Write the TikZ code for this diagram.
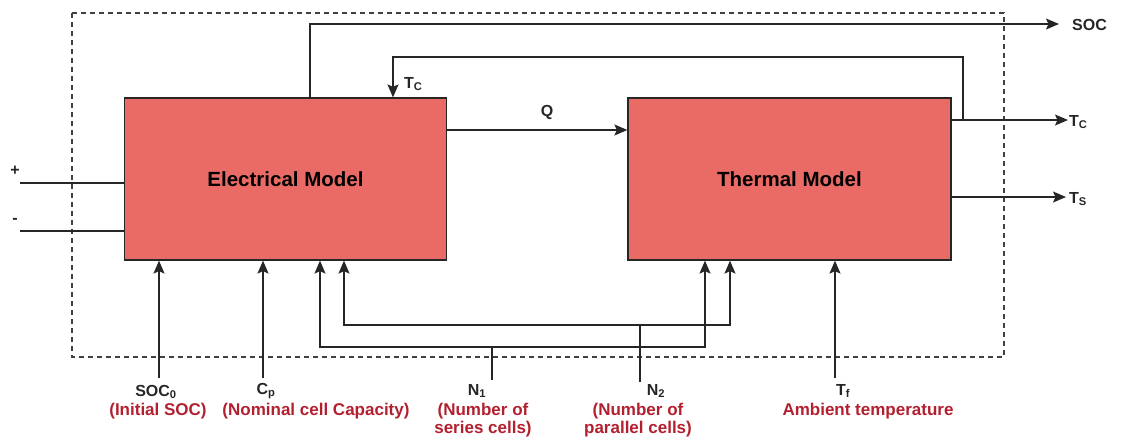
\documentclass[tikz,border=0pt]{standalone}
\usepackage{fontspec}
\setmainfont{Liberation Sans}
\usetikzlibrary{arrows.meta}
\definecolor{boxfill}{HTML}{EA6B66}
\definecolor{lblred}{RGB}{178,32,48}
\tikzset{
  box/.style={draw=black!85, line width=1.2pt, fill=boxfill, minimum width=322pt, minimum height=162pt, inner sep=0pt, font=\fontsize{20.5}{22}\selectfont\bfseries},
  wire/.style={line width=1.5pt, draw=black!85},
  arr/.style={wire, -{Stealth[length=13pt,width=11pt,inset=2.5pt]}},
  lbl/.style={inner sep=0pt, font=\fontsize{16}{18}\selectfont\bfseries, text=black!85},
  rlbl/.style={inner sep=0pt, font=\fontsize{17}{18.5}\selectfont\bfseries, text=lblred, align=center},
  dashbox/.style={draw=black!75, line width=1.2pt, dash pattern=on 5pt off 4pt}
}
\newcommand{\sub}[1]{\textsubscript{#1}}
\begin{document}
\begin{tikzpicture}[x=1pt,y=-1pt]
\useasboundingbox (0,0) rectangle (1125,445);
% dashed frame
\draw[dashbox] (72,13) rectangle (1004,357);
% boxes
\node[box] (em) at (285.5,179) {Electrical Model};
\node[box, minimum width=323pt] (tm) at (789.5,179) {Thermal Model};

% + / - terminals
\node[lbl] (plus) at (15,171) {+};
\node[lbl] (minus) at (15,221) {-};
\coordinate (pin) at (20,183);
\coordinate (min) at (20,231);
\draw[wire] (pin) -- (pin -| em.west);
\draw[wire] (min) -- (min -| em.west);

% Q arrow
\coordinate (qs) at (446,130);
\draw[arr] (qs) -- (qs -| tm.west);
\node[lbl] (q) at (547,112) {Q};

% SOC output
\coordinate (socx) at (310,24);
\coordinate (socend) at (1059,24);
\draw[arr] (socx |- em.north) -- (socx) -- (socend);
\node[lbl, anchor=west] (soc) at (1072,25) {SOC};

% Tc output + feedback
\coordinate (tcy) at (951,120);
\coordinate (tcend) at (1068,120);
\coordinate (fbx) at (963,57);
\coordinate (fbl) at (393,57);
\draw[arr] (tcy) -- (tcend);
\draw[arr] (fbx |- tcy) -- (fbx) -- (fbl) -- (fbl |- em.north);
\node[lbl, anchor=west] (tcout) at (1069,122) {T\sub{C}};
\node[lbl, anchor=west] (tcfb) at (404,84) {T\sub{C}};

% Ts output
\coordinate (tsy) at (951,197);
\coordinate (tsend) at (1066,197);
\draw[arr] (tsy) -- (tsend);
\node[lbl, anchor=west] (tsout) at (1069,199) {T\sub{S}};

% SOC0
\coordinate (s0) at (159,378);
\draw[arr] (s0) -- (s0 |- em.south);
\node[lbl] (soc0) at (156,392) {SOC\sub{0}};
\node[rlbl] (soc0r) at (158,411) {(Initial SOC)};

% Cp
\coordinate (cp) at (263,378);
\draw[arr] (cp) -- (cp |- em.south);
\node[lbl] (cpl) at (266,391) {C\sub{p}};
\node[rlbl] (cpr) at (316,411) {(Nominal cell Capacity)};

% N1
\coordinate (n1b) at (492,380);
\coordinate (n1h) at (492,347);
\coordinate (n1l) at (320,347);
\coordinate (n1r) at (705,347);
\draw[wire] (n1b) -- (n1h);
\draw[arr] (n1h) -- (n1l) -- (n1l |- em.south);
\draw[arr] (n1h) -- (n1r) -- (n1r |- tm.south);
\node[lbl] (n1) at (477,391) {N\sub{1}};
\node[rlbl] (n1t) at (483,420) {(Number of\\series cells)};

% N2
\coordinate (n2b) at (640,382);
\coordinate (n2h) at (640,325);
\coordinate (n2l) at (344,325);
\coordinate (n2r) at (730,325);
\draw[wire] (n2b) -- (n2h);
\draw[arr] (n2h) -- (n2l) -- (n2l |- em.south);
\draw[arr] (n2h) -- (n2r) -- (n2r |- tm.south);
\node[lbl] (n2) at (656,391) {N\sub{2}};
\node[rlbl] (n2t) at (638,420) {(Number of\\parallel cells)};

% Tf
\coordinate (tf) at (835,378);
\draw[arr] (tf) -- (tf |- tm.south);
\node[lbl] (tfl) at (843,391) {T\sub{f}};
\node[rlbl] (tfr) at (868,411) {Ambient temperature};
\end{tikzpicture}
\end{document}
